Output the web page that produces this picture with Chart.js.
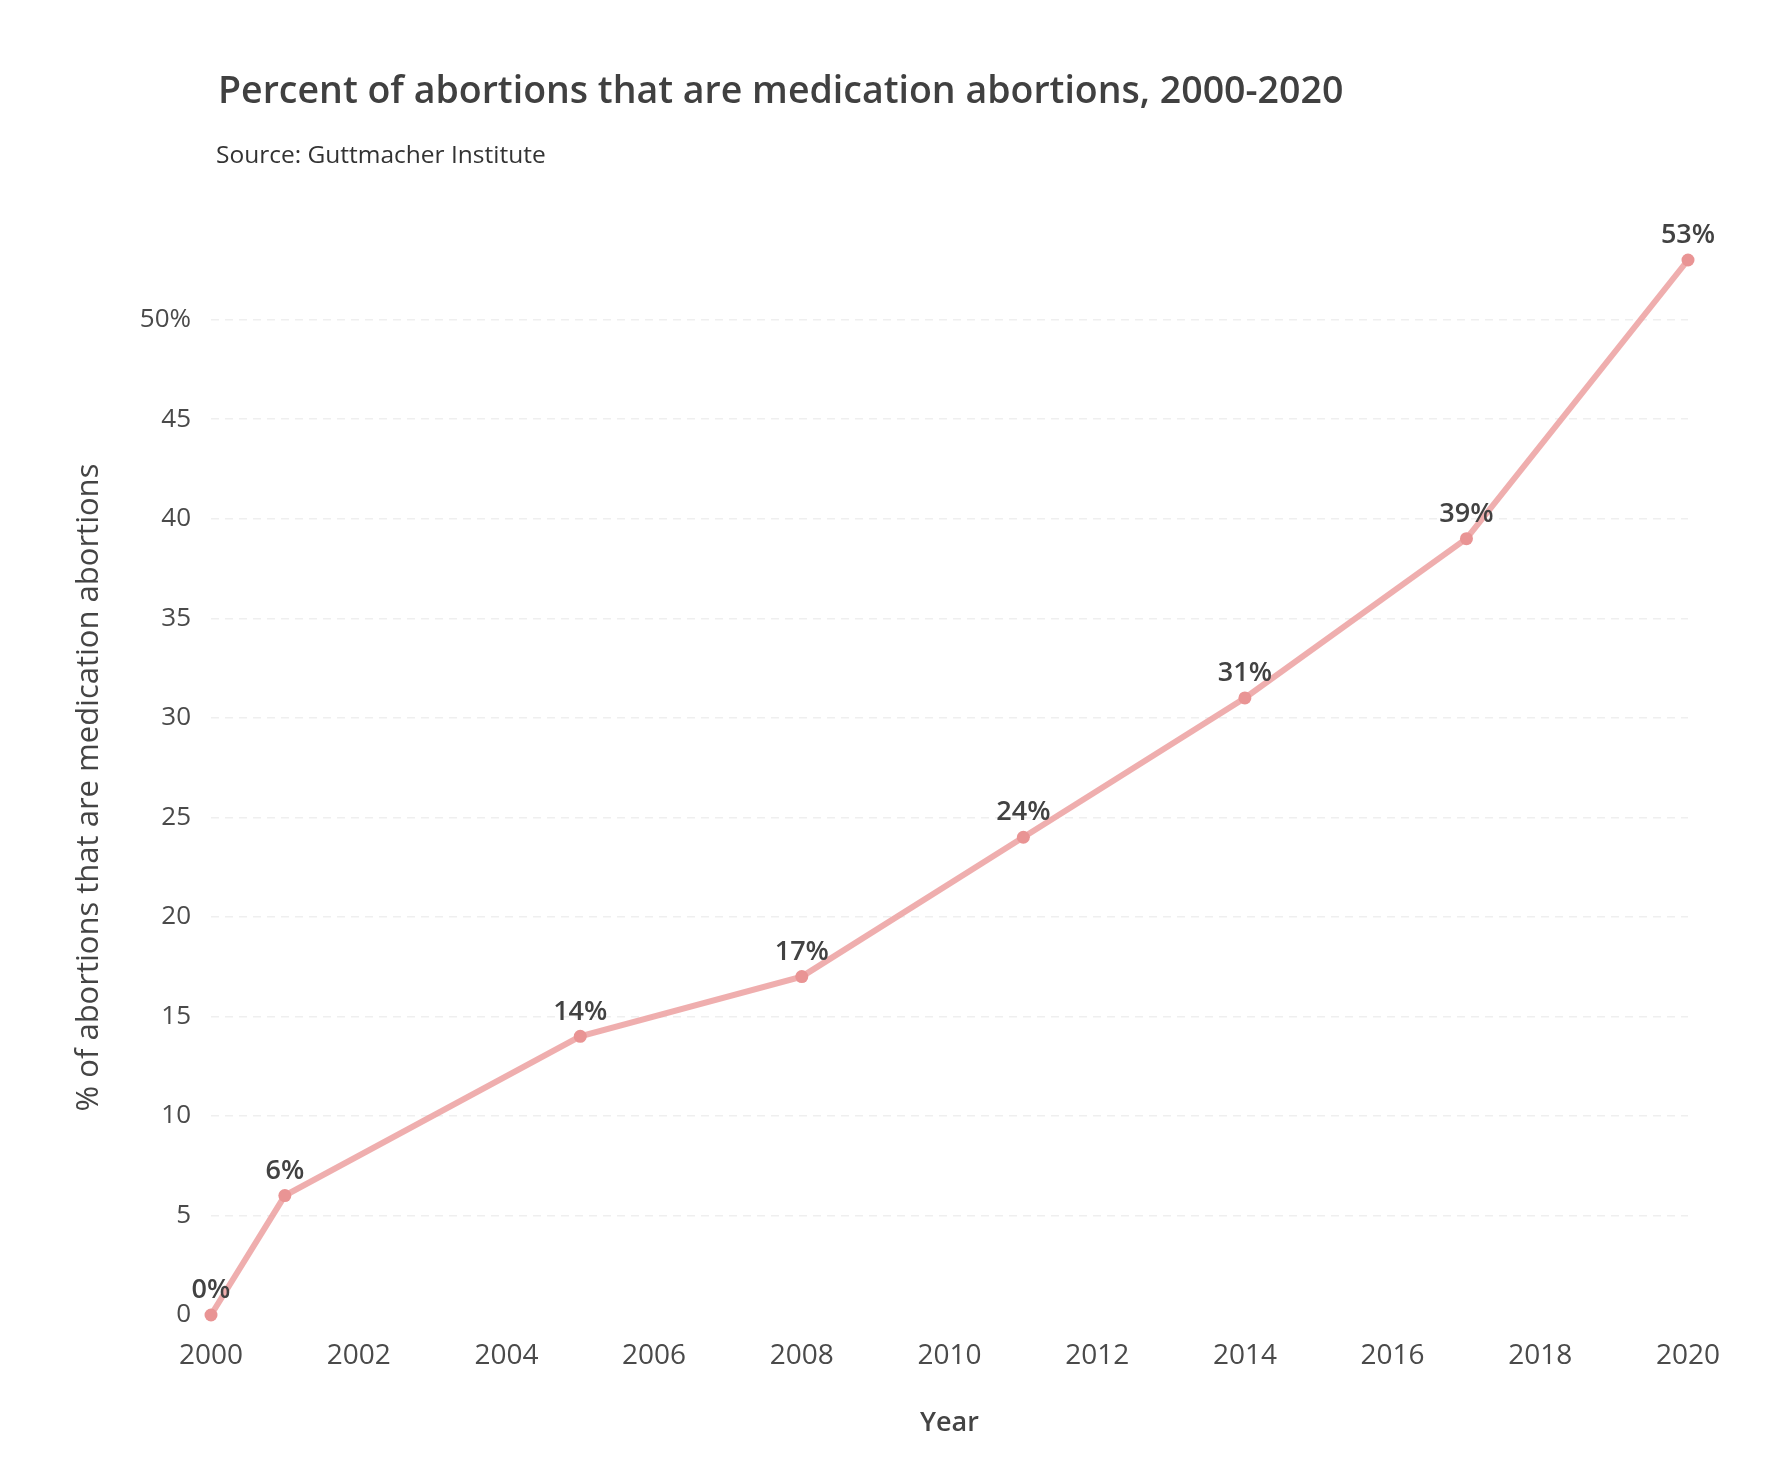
<!DOCTYPE html>
<html lang="en">
<head>
    <meta charset="UTF-8">
    <title>Medication abortions</title>
    <script src="https://cdn.jsdelivr.net/npm/chart.js"></script>
    <style>
        html, body { margin: 0; padding: 0; background: #ffffff; }
        #wrap { position: relative; width: 1790px; height: 1484px; }
    </style>
</head>
<body>
    <div id="wrap"><canvas id="lineChart" width="1790" height="1484"></canvas></div>
    <script>
        const titleText = 'Percent of abortions that are medication abortions, 2000-2020';
        const subtitleText = 'Source: Guttmacher Institute';
        const years = [2000, 2001, 2005, 2008, 2011, 2014, 2017, 2020];
        const percents = [0, 6, 14, 17, 24, 31, 39, 53];
        const xTicks = [2000, 2002, 2004, 2006, 2008, 2010, 2012, 2014, 2016, 2018, 2020];
        const yTicks = [0, 5, 10, 15, 20, 25, 30, 35, 40, 45, 50];

        const fontFamily = '"Open Sans", "Noto Sans", sans-serif';

        // title + subtitle drawn at the top left like the original
        const headerPlugin = {
            id: 'header',
            afterDraw(chart) {
                const ctx = chart.ctx;
                ctx.save();
                ctx.textBaseline = 'middle';
                ctx.textAlign = 'left';
                ctx.fillStyle = '#404040';
                ctx.font = '600 37.5px ' + fontFamily;
                ctx.fillText(titleText, 218, 92);
                ctx.fillStyle = '#333333';
                ctx.font = '400 24.5px ' + fontFamily;
                ctx.fillText(subtitleText, 216, 156);
                ctx.restore();
            }
        };

        // percent labels above each point
        const pointLabels = {
            id: 'pointLabels',
            afterDatasetsDraw(chart) {
                const ctx = chart.ctx;
                const meta = chart.getDatasetMeta(0);
                ctx.save();
                ctx.textAlign = 'center';
                ctx.textBaseline = 'bottom';
                ctx.fillStyle = '#424242';
                ctx.font = '600 27px ' + fontFamily;
                meta.data.forEach((pt, i) => {
                    ctx.fillText(percents[i] + '%', pt.x, pt.y - 11);
                });
                ctx.restore();
            }
        };

        const ctx = document.getElementById('lineChart').getContext('2d');
        new Chart(ctx, {
            type: 'line',
            data: {
                datasets: [{
                    data: years.map((y, i) => ({ x: y, y: percents[i] })),
                    borderColor: 'rgba(236, 160, 160, 0.85)',
                    backgroundColor: '#e99494',
                    borderWidth: 6,
                    pointRadius: 6.5,
                    pointBorderWidth: 0,
                    pointBackgroundColor: '#e99494',
                    tension: 0,
                    clip: false
                }]
            },
            options: {
                responsive: false,
                animation: false,
                devicePixelRatio: 1,
                layout: { padding: { top: 260, right: 102, bottom: 44, left: 71 } },
                plugins: {
                    legend: { display: false },
                    tooltip: { enabled: false }
                },
                scales: {
                    x: {
                        type: 'linear',
                        min: 2000,
                        max: 2020,
                        afterBuildTicks(scale) {
                            scale.ticks = xTicks.map(v => ({ value: v }));
                        },
                        afterFit(scale) { scale.height = 125; },
                        grid: { display: false },
                        border: { display: false },
                        ticks: {
                            color: '#4a4a4a',
                            font: { family: fontFamily, size: 28 },
                            padding: 16,
                            maxRotation: 0,
                            callback: v => String(v)
                        },
                        title: {
                            display: true,
                            text: 'Year',
                            color: '#444444',
                            font: { family: fontFamily, size: 27, weight: '600' },
                            padding: { top: 20, bottom: 0 }
                        }
                    },
                    y: {
                        type: 'linear',
                        min: 0,
                        max: 53,
                        afterBuildTicks(scale) {
                            scale.ticks = yTicks.map(v => ({ value: v }));
                        },
                        afterFit(scale) { scale.width = 140; },
                        grid: {
                            color: ctx => ctx.tick && ctx.tick.value === 0 ? 'rgba(0,0,0,0)' : '#efefef',
                            lineWidth: 1.5,
                            drawTicks: false
                        },
                        border: { display: false, dash: [8, 6] },
                        ticks: {
                            color: '#4a4a4a',
                            font: { family: fontFamily, size: 26 },
                            padding: 20,
                            callback: v => v === 50 ? '50%' : String(v)
                        },
                        title: {
                            display: true,
                            text: '% of abortions that are medication abortions',
                            color: '#444444',
                            font: { family: fontFamily, size: 31, weight: '500' },
                            padding: { top: 0, bottom: 0 }
                        }
                    }
                }
            },
            plugins: [headerPlugin, pointLabels]
        });
    </script>
</body>
</html>
